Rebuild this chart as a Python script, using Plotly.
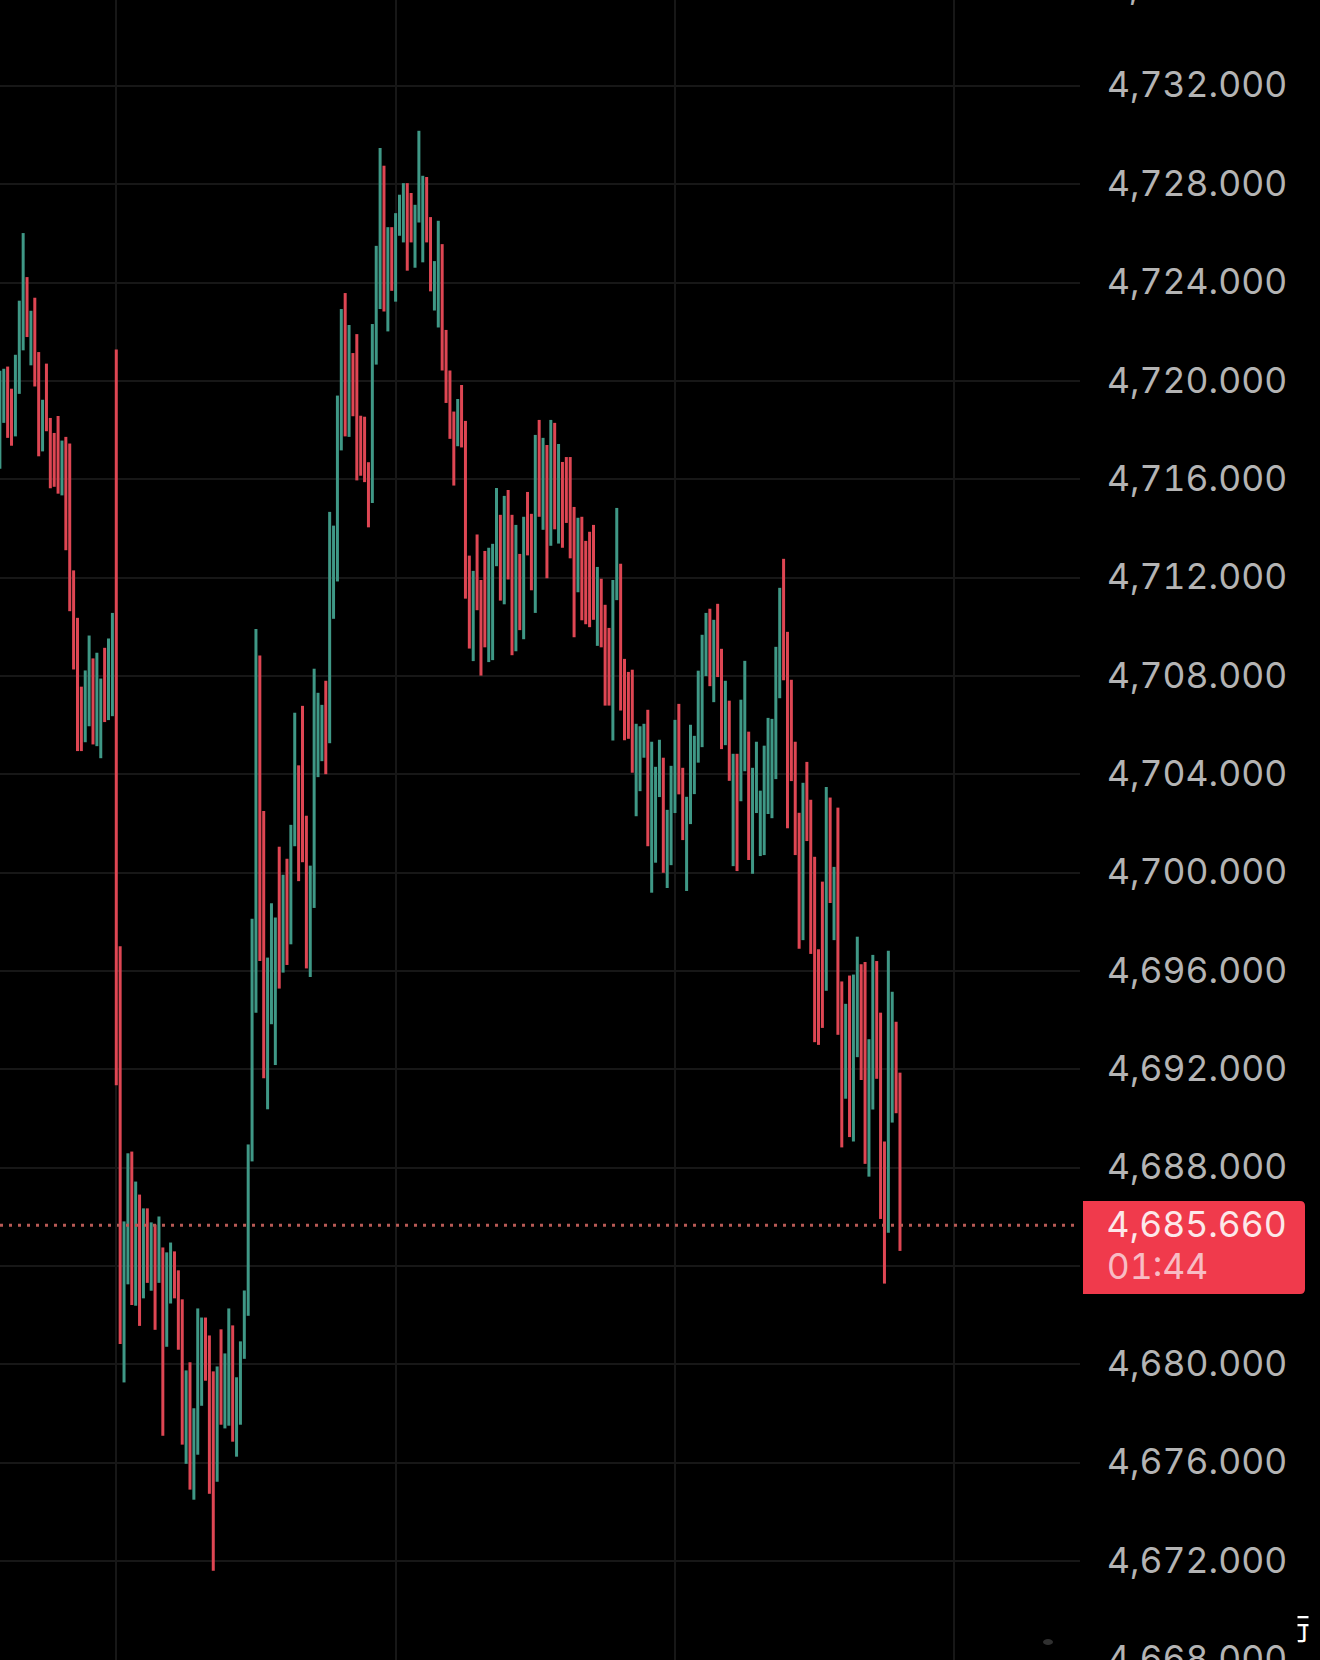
import plotly.graph_objects as go

W, H = 1320, 1660
PLOT_W = 1080

# bar index, 0 is the bar on the first vertical gridline
bar_index = list(range(-30, 203))

bar_high = [
    4720.42, 4720.50, 4720.59, 4719.69, 4721.07, 4723.27, 4726.02, 4724.23, 4722.86, 4723.39,
    4721.18, 4719.24, 4720.71, 4718.50, 4717.89, 4718.58, 4717.58, 4717.73, 4717.46, 4712.30,
    4710.37, 4707.57, 4708.23, 4709.65, 4708.72, 4708.95, 4707.90, 4709.15, 4709.53, 4710.57,
    4721.28, 4697.01, 4685.82, 4688.59, 4688.66, 4687.44, 4686.91, 4686.35, 4686.35, 4685.78,
    4685.69, 4686.02, 4684.76, 4684.56, 4684.96, 4684.60, 4683.83, 4682.65, 4679.76, 4680.09,
    4678.22, 4682.28, 4681.91, 4681.91, 4681.18, 4679.72, 4679.92, 4681.43, 4680.45, 4682.28,
    4681.59, 4679.48, 4680.94, 4683.01, 4688.95, 4698.13, 4709.92, 4708.84, 4702.51, 4696.55,
    4698.76, 4698.18, 4701.06, 4699.92, 4700.57, 4701.95, 4706.51, 4704.37, 4706.79, 4702.32,
    4700.29, 4708.30, 4707.32, 4706.83, 4707.81, 4714.68, 4714.12, 4719.41, 4722.93, 4723.58,
    4722.28, 4721.14, 4721.91, 4718.59, 4718.55, 4716.70, 4722.32, 4725.50, 4729.48, 4728.76,
    4726.26, 4726.26, 4726.83, 4727.58, 4728.05, 4728.05, 4727.65, 4727.17, 4730.18, 4728.35,
    4728.30, 4726.67, 4724.88, 4726.52, 4725.57, 4722.08, 4720.43, 4718.76, 4719.27, 4719.84,
    4718.38, 4712.90, 4712.28, 4713.76, 4711.91, 4713.09, 4713.22, 4713.38, 4715.65, 4714.56,
    4715.33, 4715.57, 4714.56, 4714.15, 4712.97, 4714.48, 4715.49, 4714.60, 4717.81, 4718.42,
    4717.69, 4717.40, 4718.42, 4718.30, 4717.44, 4716.71, 4716.91, 4716.91, 4714.88, 4714.44,
    4714.48, 4713.50, 4713.87, 4714.15, 4712.44, 4711.96, 4710.90, 4709.96, 4711.91, 4714.84,
    4712.57, 4708.70, 4708.17, 4708.26, 4706.06, 4705.96, 4706.06, 4706.63, 4705.33, 4704.31,
    4705.41, 4704.68, 4702.56, 4704.35, 4706.22, 4706.87, 4704.27, 4703.09, 4706.02, 4705.57,
    4708.22, 4709.68, 4710.57, 4710.74, 4710.29, 4710.94, 4709.11, 4707.81, 4707.00, 4704.84,
    4704.84, 4707.04, 4708.62, 4705.74, 4704.27, 4705.33, 4703.34, 4705.17, 4706.30, 4706.26,
    4709.19, 4711.59, 4712.77, 4709.80, 4707.85, 4705.33, 4702.44, 4703.66, 4704.51, 4702.97,
    4700.65, 4696.89, 4699.64, 4703.49, 4703.06, 4700.24, 4702.65, 4695.58, 4694.67, 4695.82,
    4695.86, 4697.40, 4696.28, 4696.37, 4693.23, 4696.66, 4696.41, 4694.31, 4689.07, 4696.83,
    4695.16, 4693.94, 4691.87,
]

bar_low = [
    4716.43, 4718.30, 4717.69, 4717.37, 4717.75, 4719.48, 4721.25, 4721.79, 4720.64, 4719.78,
    4716.94, 4717.14, 4717.96, 4715.64, 4715.70, 4715.42, 4715.35, 4713.12, 4710.64, 4708.27,
    4704.95, 4704.95, 4705.31, 4705.96, 4705.22, 4705.15, 4704.66, 4706.13, 4706.21, 4706.37,
    4691.36, 4680.83, 4679.27, 4683.26, 4682.42, 4682.39, 4681.57, 4682.69, 4683.32, 4683.00,
    4681.41, 4683.32, 4677.10, 4680.72, 4682.48, 4682.69, 4680.60, 4676.74, 4675.96, 4674.91,
    4674.50, 4676.33, 4678.32, 4679.34, 4674.74, 4671.61, 4675.23, 4677.55, 4677.40, 4677.51,
    4676.86, 4676.25, 4677.55, 4680.23, 4681.98, 4688.26, 4694.31, 4696.41, 4691.64, 4690.38,
    4693.84, 4692.18, 4695.29, 4695.94, 4696.25, 4697.09, 4701.08, 4699.66, 4700.43, 4696.11,
    4695.76, 4698.57, 4703.89, 4704.54, 4704.01, 4705.27, 4710.33, 4711.85, 4717.18, 4717.75,
    4717.73, 4718.57, 4715.96, 4716.15, 4715.89, 4714.05, 4715.04, 4720.67, 4722.93, 4722.83,
    4722.02, 4723.67, 4723.23, 4725.91, 4725.64, 4724.49, 4725.64, 4724.61, 4726.45, 4724.83,
    4725.64, 4723.65, 4722.87, 4722.18, 4720.43, 4719.11, 4717.65, 4715.75, 4717.35, 4717.30,
    4711.15, 4709.12, 4708.61, 4710.68, 4708.02, 4709.17, 4708.57, 4708.65, 4712.47, 4711.07,
    4710.92, 4711.93, 4708.85, 4709.01, 4709.87, 4709.50, 4712.91, 4711.49, 4710.57, 4714.48,
    4713.95, 4711.98, 4713.30, 4713.97, 4713.39, 4713.22, 4714.23, 4712.79, 4709.58, 4711.41,
    4710.27, 4710.11, 4709.99, 4710.29, 4709.23, 4709.17, 4706.80, 4706.80, 4705.38, 4711.09,
    4706.60, 4705.39, 4705.45, 4704.07, 4702.30, 4703.32, 4704.68, 4701.08, 4699.19, 4700.41,
    4703.08, 4700.00, 4699.38, 4700.31, 4702.43, 4703.19, 4701.33, 4699.26, 4701.98, 4703.20,
    4704.48, 4705.11, 4708.00, 4707.59, 4706.94, 4707.96, 4705.03, 4705.19, 4703.74, 4700.27,
    4700.07, 4702.91, 4704.13, 4700.52, 4699.96, 4702.43, 4700.68, 4700.72, 4702.39, 4702.22,
    4703.81, 4707.10, 4707.83, 4701.81, 4703.73, 4700.72, 4696.91, 4697.26, 4701.29, 4696.70,
    4693.11, 4693.00, 4693.69, 4695.20, 4698.77, 4697.26, 4693.41, 4688.83, 4690.81, 4689.25,
    4689.07, 4692.50, 4691.57, 4688.16, 4687.64, 4690.37, 4691.62, 4685.92, 4683.29, 4685.36,
    4689.84, 4690.22, 4684.62,
]

# G = up bar, R = down bar
bar_dir = (
    "GGRRGGGRGR" "RGRRRRGRRR" "RRGGRGGRGG"
    "RRGGRGRGRG" "RGRGGRRRGR" "GGGRRRGRGG" "RGGGGGGRRG" "GGRGRGGRRR"
    "GGGGRGGGGR" "GRRRRRGGGR" "GRGGGRRGGG" "RRGGRRRRGR" "RRGRRRGGGR"
    "GRRGRGRRGR" "GRGRGRRRRG" "RRRRGRRRGG" "RRRRGGGRGG" "GRGGGRRGGG"
    "GGGRGRRGRG" "RGGRGGGGGG" "GGRRRRRGRR" "RRRGRGRRGR" "GGRRGGRRRG"
    "GRR"
)

price_ticks = [4668, 4672, 4676, 4680, 4684, 4688, 4692, 4696, 4700, 4704,
               4708, 4712, 4716, 4720, 4724, 4728, 4732]
session_ticks = [0, 72, 144, 216]
last_price = 4685.66
countdown = "01:44"

RED = "#DE4653"
GREEN = "#3F9886"
TAG = "#F03A4C"
GRID = "#171717"
LABEL = "#B4B4B4"
FONT_SIZE = 35.5


def px(x):
    return x / W


def py(y):
    return 1 - y / H


fig = go.Figure()
# plain lines rather than go.Bar, bars get snapped to whole pixels and come out uneven
for side, colour in (("R", RED), ("G", GREEN)):
    xs, ys = [], []
    for i, h, l, d in zip(bar_index, bar_high, bar_low, bar_dir):
        if d == side:
            xs += [i, i, None]
            ys += [l, h, None]
    fig.add_scatter(x=xs, y=ys, mode="lines", line=dict(color=colour, width=3), hoverinfo="skip")

tag_path = (
    f"M {px(1083)} {py(1201)} L {px(1300)} {py(1201)} Q {px(1305)} {py(1201)} {px(1305)} {py(1206)} "
    f"L {px(1305)} {py(1289)} Q {px(1305)} {py(1294)} {px(1300)} {py(1294)} L {px(1083)} {py(1294)} Z"
)

fig.update_layout(
    width=W,
    height=H,
    autosize=False,
    margin=dict(l=0, r=0, t=0, b=0, autoexpand=False),
    paper_bgcolor="#000000",
    plot_bgcolor="#000000",
    showlegend=False,
    font=dict(family="Inter", size=FONT_SIZE, color=LABEL),
    xaxis=dict(
        domain=[0, PLOT_W / W],
        range=[-29.97, 248.4],
        tickvals=session_ticks,
        showticklabels=False,
        showgrid=True,
        gridcolor=GRID,
        gridwidth=2,
        zeroline=False,
        showline=False,
    ),
    yaxis=dict(
        side="right",
        range=[4667.98, 4735.5],
        tickvals=price_ticks,
        ticktext=["" if v == 4684 else f"{v:,.3f}" for v in price_ticks],
        ticklabelstandoff=26,
        ticklabelshift=-1,
        ticklabeloverflow="allow",
        showgrid=True,
        gridcolor=GRID,
        gridwidth=2,
        zeroline=False,
        showline=False,
    ),
    shapes=[
        dict(
            type="line", xref="paper", yref="y", x0=0, x1=px(1075), y0=last_price, y1=last_price,
            line=dict(color="#B85A55", width=3, dash="3px,6px"), layer="above",
        ),
        dict(type="path", xref="paper", yref="paper", path=tag_path, fillcolor=TAG, line=dict(width=0), layer="above"),
        # smudges left by the watermark
        dict(type="circle", xref="paper", yref="paper", x0=px(1043), x1=px(1053), y0=py(1645), y1=py(1639),
             fillcolor="#8A8A8A", opacity=0.35, line=dict(width=0), layer="above"),
        dict(type="circle", xref="paper", yref="paper", x0=px(1288), x1=px(1298), y0=py(1636), y1=py(1614),
             fillcolor="#555555", opacity=0.15, line=dict(width=0), layer="above"),
    ],
    annotations=[
        dict(xref="paper", yref="paper", x=px(1109), y=py(-14), text="4,736.000", showarrow=False,
             xanchor="left", yanchor="middle", font=dict(family="Inter", size=FONT_SIZE, color=LABEL)),
        dict(xref="paper", yref="paper", x=px(1109), y=py(1224), text=f"{last_price:,.3f}", showarrow=False,
             xanchor="left", yanchor="middle", font=dict(family="Inter", size=FONT_SIZE, color="#FCE8EA")),
        dict(xref="paper", yref="paper", x=px(1109), y=py(1266), text=countdown, showarrow=False,
             xanchor="left", yanchor="middle", font=dict(family="Inter", size=FONT_SIZE, color="#F8BCC4")),
        # watermark, only the middle of the glyph is visible
        dict(xref="paper", yref="paper", x=px(1303.7), y=py(1626), text="亍", showarrow=False,
             xanchor="center", yanchor="middle", font=dict(family="Noto Sans CJK SC", size=30, color="#FFFFFF")),
        dict(xref="paper", yref="paper", x=px(1298), y=py(1626), text=" ", showarrow=False, width=16, height=36,
             borderpad=0, xanchor="right", yanchor="middle", bgcolor="#000000", font=dict(size=12)),
        dict(xref="paper", yref="paper", x=px(1308), y=py(1626), text=" ", showarrow=False, width=14, height=36,
             borderpad=0, xanchor="left", yanchor="middle", bgcolor="#000000", font=dict(size=12)),
    ],
)

page_js = (
    "document.body.style.margin='0';document.body.style.background='#000';document.body.style.overflow='hidden';"
    "var s=document.createElement('style');s.textContent=\"text{font-feature-settings:'tnum' !important}\";"
    "document.head.appendChild(s);"
)
fig.write_html("out.html", post_script=page_js, config={"displayModeBar": False})
